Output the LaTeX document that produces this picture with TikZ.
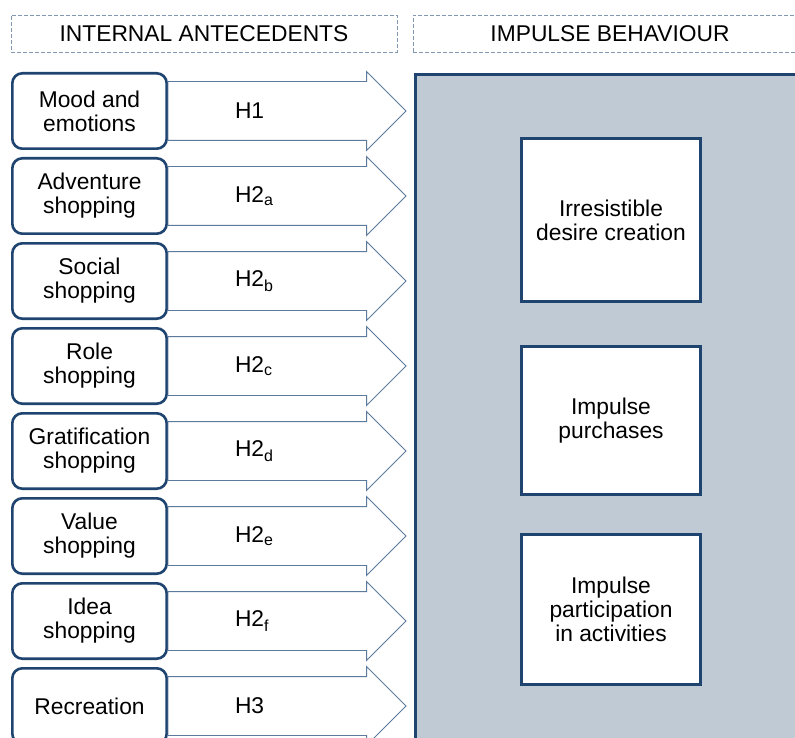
\documentclass[tikz,border=0pt]{standalone}
\usepackage{fontspec}
\setmainfont{Liberation Sans}
\usepackage{tikz}
\usetikzlibrary{positioning, shapes.arrows, calc}

\definecolor{boxnavy}{RGB}{31,68,112}
\definecolor{arrowline}{RGB}{91,122,156}
\definecolor{dashline}{RGB}{132,151,176}
\definecolor{panelgrey}{RGB}{192,202,213}
\newcommand{\diagfont}{\fontsize{22.8}{24}\selectfont}

\begin{document}
\begin{tikzpicture}[x=1pt, y=1pt]
	% Define styles
	\tikzset{
		headbox/.style={rectangle, draw=dashline, dash pattern=on 4pt off 2pt, line width=0.9pt, minimum height=37pt, font=\diagfont},
		antebox/.style={rectangle, rounded corners=10pt, draw=boxnavy, line width=2.6pt, fill=white, minimum width=154.4pt, minimum height=75.4pt, align=center, font=\diagfont},
		harrow/.style={single arrow, draw=arrowline, line width=0.9pt, fill=white, minimum height=238pt, minimum width=78pt, single arrow head extend=10pt, inner xsep=0pt, inner ysep=29pt, outer sep=0pt},
		hlabel/.style={inner sep=0pt, outer sep=0pt, font=\diagfont},
		outbox/.style={rectangle, draw=boxnavy, line width=2.6pt, fill=white, minimum width=179.4pt, align=center, font=\diagfont},
		panel/.style={rectangle, draw=boxnavy, line width=2.6pt, fill=panelgrey, minimum width=420pt, minimum height=700pt, inner sep=0pt}
	}
	\useasboundingbox (0,0) rectangle (795,-738);
	\clip (0,0) rectangle (795,-738);
	
	% Headers
	\node[headbox, minimum width=386pt] (hint) at (204,-33.5) {INTERNAL ANTECEDENTS};
	\node[headbox, minimum width=394pt] (hbeh) at (610,-33.5) {IMPULSE BEHAVIOUR};
	
	% Behaviour panel
	\node[panel, anchor=north west] (beh) at (414.3,-73.3) {};
	
	% Antecedents
	\node[antebox] (mood) at (89.5,-111) {Mood and\\emotions};
	\node[antebox, below=7pt of mood] (adv) {Adventure\\shopping};
	\node[antebox, below=7pt of adv] (soc) {Social\\shopping};
	\node[antebox, below=7pt of soc] (role) {Role\\shopping};
	\node[antebox, below=7pt of role] (grat) {Gratification\\shopping};
	\node[antebox, below=7pt of grat] (val) {Value\\shopping};
	\node[antebox, below=7pt of val] (idea) {Idea\\shopping};
	\node[antebox, below=7pt of idea] (recr) {Recreation};
	
	% Arrows
	\node[harrow, right=0pt of mood] (a1) {};
	\node[harrow, right=0pt of adv] (a2) {};
	\node[harrow, right=0pt of soc] (a3) {};
	\node[harrow, right=0pt of role] (a4) {};
	\node[harrow, right=0pt of grat] (a5) {};
	\node[harrow, right=0pt of val] (a6) {};
	\node[harrow, right=0pt of idea] (a7) {};
	\node[harrow, right=0pt of recr] (a8) {};
	
	% Hypotheses
	\node[hlabel, right=67pt of mood] (h1) {H1};
	\node[hlabel, right=67pt of adv] (h2a) {H2\textsubscript{a}};
	\node[hlabel, right=67pt of soc] (h2b) {H2\textsubscript{b}};
	\node[hlabel, right=67pt of role] (h2c) {H2\textsubscript{c}};
	\node[hlabel, right=67pt of grat] (h2d) {H2\textsubscript{d}};
	\node[hlabel, right=67pt of val] (h2e) {H2\textsubscript{e}};
	\node[hlabel, right=67pt of idea] (h2f) {H2\textsubscript{f}};
	\node[hlabel, right=67pt of recr] (h3) {H3};
	
	% Outcomes
	\node[outbox, minimum height=163.4pt] (desire) at (611,-220) {Irresistible\\desire creation};
	\node[outbox, minimum height=148.4pt, below=42pt of desire] (purch) {Impulse\\purchases};
	\node[outbox, minimum height=150.4pt, below=37pt of purch] (activ) {Impulse\\participation\\in activities};
\end{tikzpicture}
\end{document}
